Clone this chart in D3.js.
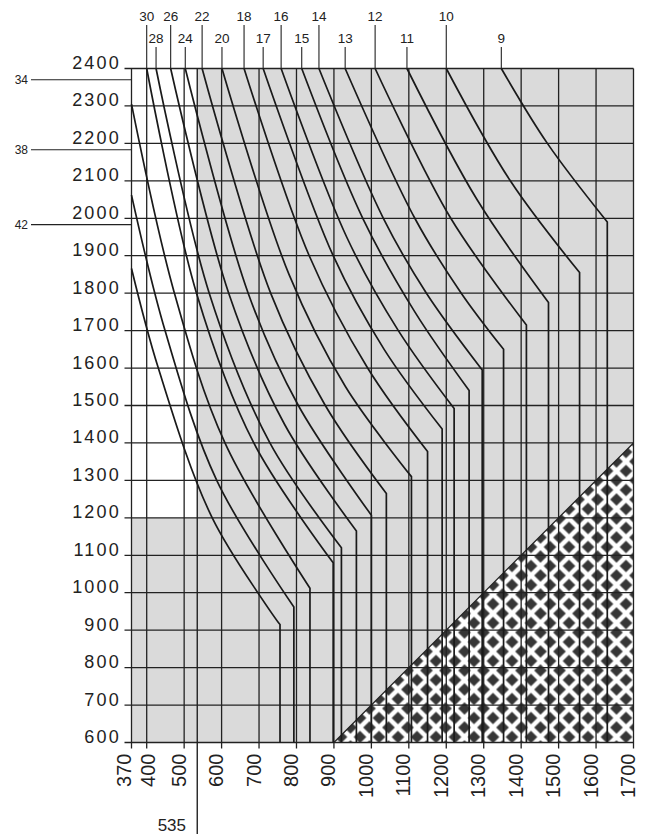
<!DOCTYPE html>
<html>
<head>
<meta charset="utf-8">
<script src="https://cdn.jsdelivr.net/npm/d3@7/dist/d3.min.js"></script>
<style>
  body { margin: 0; background: #fff; }
  text { font-family: "Liberation Sans", Arial, sans-serif; fill: #222; }
</style>
</head>
<body>
<div id="chart"></div>
<script>
// axis ticks (370 is the left border of the grid, drawn a bit wider than scale)
var xTicks = [370, 400, 500, 600, 700, 800, 900, 1000, 1100, 1200, 1300, 1400, 1500, 1600, 1700];
var yTicks = [600, 700, 800, 900, 1000, 1100, 1200, 1300, 1400, 1500, 1600, 1700, 1800, 1900, 2000, 2100, 2200, 2300, 2400];
var markX = 535;

// curves: label, points [x, y] down to the bend, then straight down to 600
var curveLabels = ["9", "10", "11", "12", "13", "14", "15", "16", "17", "18", "20", "22", "24", "26", "28", "30", "34", "38", "42"];
var curvePoints = [
    [[1347, 2400], [1470, 2200], [1630, 1990]],
    [[1200, 2400], [1371, 2100], [1556, 1855]],
    [[1095, 2400], [1282, 2050], [1473, 1775]],
    [[1010, 2400], [1212, 2000], [1414, 1715]],
    [[930, 2400], [1116, 2000], [1240, 1800], [1353, 1650]],
    [[860, 2400], [1032, 2000], [1147, 1800], [1296, 1595]],
    [[814, 2400], [977, 2000], [1116, 1750], [1261, 1540]],
    [[759, 2400], [934, 1950], [1072, 1700], [1221, 1492]],
    [[711, 2400], [898, 1900], [1034, 1650], [1189, 1437]],
    [[660, 2400], [834, 1900], [990, 1600], [1150, 1377]],
    [[601, 2400], [780, 1850], [931, 1550], [1107, 1310]],
    [[548, 2400], [731, 1800], [877, 1500], [1040, 1265]],
    [[503, 2400], [671, 1800], [805, 1500], [1000, 1207]],
    [[464, 2400], [619, 1800], [768, 1450], [960, 1165]],
    [[425, 2400], [567, 1800], [729, 1400], [920, 1120]],
    [[400, 2400], [533, 1800], [686, 1400], [898, 1080]],
    [[370, 2305], [474, 1800], [609, 1400], [836, 1012]],
    [[370, 2062], [449, 1700], [587, 1300], [793, 962]],
    [[370, 1866], [431, 1600], [575, 1200], [756, 915]]
];
// top labels: row 1 or 2; side labels for the curves that start on the left border
var topRow = [2, 1, 2, 1, 2, 1, 2, 1, 2, 1, 2, 1, 2, 1, 2, 1, 0, 0, 0];
var sideLabelY = [2370, 2183, 1983];

// hatched corner
var hatchPts = [[900, 600], [1700, 1400], [1700, 600]];

var width = 650, height = 834;

var x = d3.scaleLinear().domain([370, 400, 1700]).range([131.5, 146.7, 633.5]);
var y = d3.scaleLinear().domain([600, 2400]).range([742.5, 68.5]);

var svg = d3.select("#chart").append("svg")
    .attr("width", width)
    .attr("height", height);

//diamond pattern for the corner
var cell = 19;
var defs = svg.append("defs");
var pat = defs.append("pattern")
    .attr("id", "diam")
    .attr("patternUnits", "userSpaceOnUse")
    .attr("x", x(1700) + 2).attr("y", y(600) + 4)
    .attr("width", cell)
    .attr("height", cell);
pat.append("rect").attr("width", cell).attr("height", cell).attr("fill", "#fff");
[[cell / 2, cell / 2], [0, 0], [cell, 0], [0, cell], [cell, cell]].forEach(function(c) {
    var r = 6.3;
    pat.append("path")
        .attr("d", "M" + c[0] + "," + (c[1] - r) + "L" + (c[0] + r) + "," + c[1] +
                   "L" + c[0] + "," + (c[1] + r) + "L" + (c[0] - r) + "," + c[1] + "Z")
        .attr("fill", "#363636");
});

var toPath = d3.line().x(function(d) { return x(d[0]); }).y(function(d) { return y(d[1]); });

//gray background of the grid (white block top left)
var grayArea = [[markX, 2400], [1700, 2400], [1700, 600], [370, 600], [370, 1200], [markX, 1200]];
svg.append("path")
    .attr("d", toPath(grayArea) + "Z")
    .attr("fill", "#dadada");

svg.append("path")
    .attr("d", toPath(hatchPts) + "Z")
    .attr("fill", "url(#diam)");

//grid
svg.selectAll(".hgrid")
    .data(yTicks)
    .enter().append("line")
    .attr("x1", x(370) - 7).attr("x2", x(1700))
    .attr("y1", function(d) { return y(d); })
    .attr("y2", function(d) { return y(d); })
    .attr("stroke", "#222").attr("stroke-width", 1.3);

svg.selectAll(".vgrid")
    .data(xTicks)
    .enter().append("line")
    .attr("x1", function(d) { return x(d); })
    .attr("x2", function(d) { return x(d); })
    .attr("y1", y(2400)).attr("y2", y(600) + 6)
    .attr("stroke", "#222").attr("stroke-width", 1.3);

svg.append("line")
    .attr("x1", x(markX)).attr("x2", x(markX))
    .attr("y1", y(2400)).attr("y2", 834)
    .attr("stroke", "#222").attr("stroke-width", 1.4);

//diagonal border of the hatch
svg.append("line")
    .attr("x1", x(hatchPts[0][0])).attr("y1", y(hatchPts[0][1]))
    .attr("x2", x(hatchPts[1][0])).attr("y2", y(hatchPts[1][1]))
    .attr("stroke", "#222").attr("stroke-width", 1.3);

//curves
var curveLine = d3.line()
    .x(function(d) { return x(d[0]); })
    .y(function(d) { return y(d[1]); })
    .curve(d3.curveCatmullRom);

svg.selectAll(".curve")
    .data(curvePoints)
    .enter().append("path")
    .attr("d", function(d) {
        var last = d[d.length - 1];
        return curveLine(d) + "L" + x(last[0]) + "," + y(600);
    })
    .attr("fill", "none")
    .attr("stroke", "#1a1a1a")
    .attr("stroke-width", 1.7);

//top labels with leaders
curveLabels.forEach(function(lab, i) {
    var row = topRow[i];
    if (!row) return;
    var px = x(curvePoints[i][0][0]);
    var ty = row === 1 ? 21 : 43;
    svg.append("text")
        .attr("x", px).attr("y", ty)
        .attr("text-anchor", "middle")
        .style("font-size", "13.5px")
        .text(lab);
    svg.append("line")
        .attr("x1", px).attr("x2", px)
        .attr("y1", ty + 4).attr("y2", y(2400))
        .attr("stroke", "#222").attr("stroke-width", 1.1);
});

//side labels for 34, 38, 42
var sideIdx = 0;
curveLabels.forEach(function(lab, i) {
    if (topRow[i]) return;
    var sy = y(sideLabelY[sideIdx++]);
    svg.append("text")
        .attr("x", 28).attr("y", sy + 4)
        .attr("text-anchor", "end")
        .style("font-size", "12px")
        .text(lab);
    svg.append("line")
        .attr("x1", 31).attr("x2", x(370))
        .attr("y1", sy).attr("y2", sy)
        .attr("stroke", "#222").attr("stroke-width", 1.1);
});

//y labels
svg.selectAll(".ylab")
    .data(yTicks)
    .enter().append("text")
    .attr("x", 121)
    .attr("y", function(d) { return y(d) + 0.5; })
    .attr("text-anchor", "end")
    .style("font-size", "18px")
    .style("letter-spacing", "2.2px")
    .text(function(d) { return d; });

//x labels, rotated (370 and 400 are pushed apart)
svg.selectAll(".xlab")
    .data(xTicks)
    .enter().append("text")
    .attr("transform", function(d) {
        var dx = d === 370 ? -1 : (d === 400 ? 8 : 1.5);
        return "translate(" + (x(d) + dx) + "," + (y(600) + 11) + ") rotate(-90)";
    })
    .attr("text-anchor", "end")
    .style("font-size", "20px")
    .text(function(d) { return d; });

svg.append("text")
    .attr("x", 186).attr("y", 831)
    .attr("text-anchor", "end")
    .style("font-size", "17px")
    .text(markX);
</script>
</body>
</html>
